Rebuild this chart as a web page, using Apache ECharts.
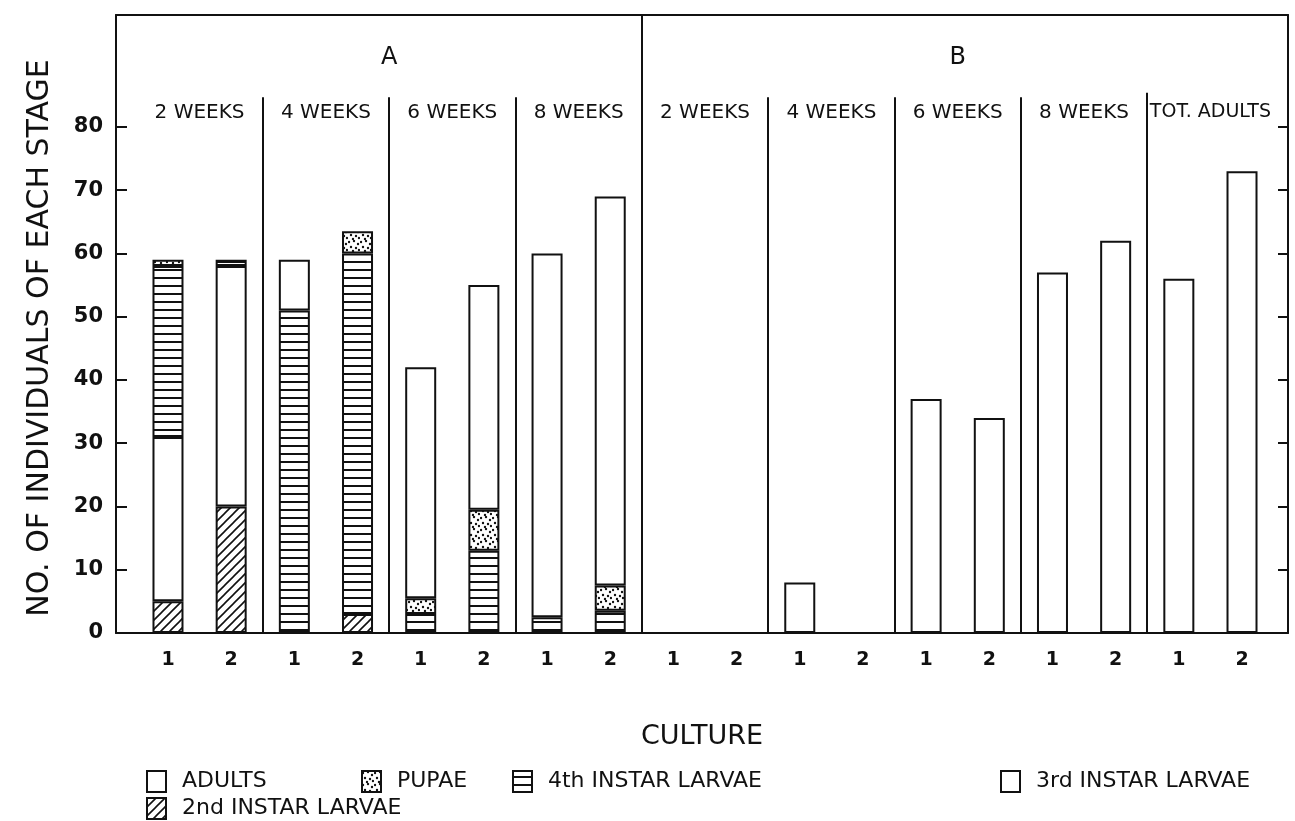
<!DOCTYPE html>
<html>
<head>
<meta charset="utf-8">
<script src="https://cdn.jsdelivr.net/npm/echarts@6/dist/echarts.min.js"></script>
<style>
html,body{margin:0;padding:0;background:#fff;}
#chart{width:1295px;height:821px;}
</style>
</head>
<body>
<div id="chart"></div>
<script>
// cultures, left to right (A: 2,4,6,8 weeks; B: 2,4,6,8 weeks, total adults)
var cultures = ['1','2','1','2','1','2','1','2','1','2','1','2','1','2','1','2','1','2'];
var groupNames = ['2 WEEKS','4 WEEKS','6 WEEKS','8 WEEKS','2 WEEKS','4 WEEKS','6 WEEKS','8 WEEKS','TOT. ADULTS'];
var sectionNames = ['A','B'];
var yTicks = [0,10,20,30,40,50,60,70,80];

// stage counts, bottom of stack first
var secondInstar = [5, 20, 0, 3, 0, 0, 0, 0,   0, 0, 0, 0, 0, 0, 0, 0, 0, 0];
var thirdInstar  = [26, 38, 0, 0, 0, 0, 0, 0,  0, 0, 0, 0, 0, 0, 0, 0, 0, 0];
var fourthInstar = [27, 1, 51, 57, 3, 13, 2.5, 3.5,  0, 0, 0, 0, 0, 0, 0, 0, 0, 0];
var pupae        = [1, 0, 0, 3.5, 2.5, 6.5, 0, 4,  0, 0, 0, 0, 0, 0, 0, 0, 0, 0];
var adults       = [0, 0, 8, 0, 36.5, 35.5, 57.5, 61.5,  0, 0, 8, 0, 37, 34, 57, 62, 56, 73];

var FONT = 'DejaVu Sans';
var INK = '#111';

// fill patterns
function makeTile(w, h, draw){
    var c = document.createElement('canvas');
    c.width = w; c.height = h;
    var ctx = c.getContext('2d');
    ctx.fillStyle = '#fff';
    ctx.fillRect(0, 0, w, h);
    ctx.fillStyle = INK;
    ctx.strokeStyle = INK;
    draw(ctx);
    return {image: c, repeat: 'repeat'};
}
var linesFill = makeTile(8, 8, function(ctx){
    ctx.fillRect(0, 5, 8, 2);
});
var hatchFill = makeTile(9, 9, function(ctx){
    ctx.lineWidth = 1.6;
    ctx.beginPath();
    ctx.moveTo(-1, 10); ctx.lineTo(10, -1);
    ctx.moveTo(-1, 1); ctx.lineTo(1, -1);
    ctx.moveTo(8, 10); ctx.lineTo(10, 8);
    ctx.stroke();
});
var dotsFill = makeTile(12, 12, function(ctx){
    [[1,2],[6,1],[10,4],[3,7],[8,8],[5,11],[11,10]].forEach(function(p){
        ctx.beginPath();
        ctx.arc(p[0], p[1], 1.2, 0, Math.PI * 2);
        ctx.fill();
    });
});

function barSeries(name, arr, fill){
    return {
        name: name,
        type: 'bar',
        stack: 'stage',
        xAxisIndex: 2,
        yAxisIndex: 2,
        barWidth: 31,
        data: arr.map(function(v){ return v === 0 ? '-' : v; }),
        itemStyle: {color: fill, borderColor: INK, borderWidth: 2},
        emphasis: {disabled: true},
        animation: false
    };
}

// frame grid: value x axis so that culture i sits at x = i
var xMin = -0.823, xMax = 17.728, yMax = 97.7;
var weekTop = 84.7;

// dividers between week groups and between A and B
var dividers = [];
groupNames.forEach(function(g, i){
    if (i === 0) return;
    var x = 2 * i - 0.5;
    var top = (i === 4) ? yMax : (i === 8 ? 85.4 : weekTop);
    dividers.push([{coord: [x, 0]}, {coord: [x, top]}]);
});

var headerData = [];
groupNames.forEach(function(g, i){
    headerData.push({value: [2 * i + 0.5, 82.3], name: g, label: {fontSize: i === 8 ? 19 : 20}});
});
sectionNames.forEach(function(s, i){
    headerData.push({value: [i === 0 ? 3.5 : 12.5, 91.0], name: s, label: {fontSize: 24}});
});

var axisPlain = {show: true, onZero: false, lineStyle: {color: INK, width: 2}};

var option = {
    backgroundColor: '#fff',
    animation: false,
    grid: [
        {left: 116, right: 7, top: 15, bottom: 188},
        {left: 136.4, right: 21.4, top: 15, bottom: 188}
    ],
    xAxis: [{
        type: 'value', gridIndex: 0, min: xMin, max: xMax, position: 'bottom',
        axisLine: axisPlain,
        axisTick: {show: false},
        splitLine: {show: false},
        axisLabel: {
            customValues: cultures.map(function(c, i){ return i; }),
            formatter: function(v){ return cultures[Math.round(v)]; },
            color: INK, fontFamily: FONT, fontWeight: 'bold', fontSize: 19, margin: 18
        },
        name: 'CULTURE', nameLocation: 'middle', nameGap: 90,
        nameTextStyle: {color: INK, fontFamily: FONT, fontSize: 27}
    }, {
        type: 'value', gridIndex: 0, min: xMin, max: xMax, position: 'top',
        axisLine: axisPlain,
        axisTick: {show: false}, axisLabel: {show: false}, splitLine: {show: false}
    }, {
        type: 'category', gridIndex: 1,
        data: cultures.map(function(c, i){ return 'c' + i; }),
        show: false
    }],
    yAxis: [{
        type: 'value', gridIndex: 0, min: 0, max: yMax, position: 'left',
        axisLine: axisPlain,
        axisTick: {show: true, inside: true, length: 11, customValues: yTicks, lineStyle: {color: INK, width: 2}},
        axisLabel: {customValues: yTicks, color: INK, fontFamily: FONT, fontWeight: 'bold', fontSize: 21, margin: 13},
        splitLine: {show: false}
    }, {
        type: 'value', gridIndex: 0, min: 0, max: yMax, position: 'right',
        axisLine: axisPlain,
        axisTick: {show: true, inside: true, length: 10, customValues: yTicks, lineStyle: {color: INK, width: 2}},
        axisLabel: {show: false},
        splitLine: {show: false}
    }, {
        type: 'value', gridIndex: 1, min: 0, max: yMax, show: false
    }],
    legend: [
        {data: ['ADULTS'], left: 146, top: 770},
        {data: ['PUPAE'], left: 361, top: 770},
        {data: ['4th INSTAR LARVAE'], left: 512, top: 770},
        {data: ['3rd INSTAR LARVAE'], left: 1000, top: 770},
        {data: ['2nd INSTAR LARVAE'], left: 146, top: 797}
    ].map(function(l){
        l.padding = 0;
        l.icon = 'rect';
        l.itemWidth = 19;
        l.itemHeight = 21;
        l.selectedMode = false;
        l.textStyle = {color: INK, fontFamily: FONT, fontSize: 22, padding: [0, 0, 0, 11]};
        return l;
    }),
    graphic: [{
        type: 'text', x: 40, y: 338, rotation: Math.PI / 2,
        style: {text: 'NO. OF INDIVIDUALS OF EACH STAGE', fill: INK, font: '30px "DejaVu Sans"', textAlign: 'center', textVerticalAlign: 'middle'}
    }],
    series: [
        barSeries('2nd INSTAR LARVAE', secondInstar, hatchFill),
        barSeries('3rd INSTAR LARVAE', thirdInstar, '#fff'),
        barSeries('4th INSTAR LARVAE', fourthInstar, linesFill),
        barSeries('PUPAE', pupae, dotsFill),
        barSeries('ADULTS', adults, '#fff'),
        {
            type: 'scatter',
            xAxisIndex: 0,
            yAxisIndex: 0,
            symbolSize: 0,
            silent: true,
            itemStyle: {opacity: 1},
            data: headerData,
            label: {show: true, position: 'inside', formatter: '{b}', color: INK, fontFamily: FONT},
            markLine: {
                silent: true,
                symbol: ['none', 'none'],
                label: {show: false},
                lineStyle: {color: INK, width: 2, type: 'solid'},
                data: dividers
            },
            animation: false
        }
    ]
};

var myChart = echarts.init(document.getElementById('chart'));
myChart.setOption(option);
</script>
</body>
</html>
